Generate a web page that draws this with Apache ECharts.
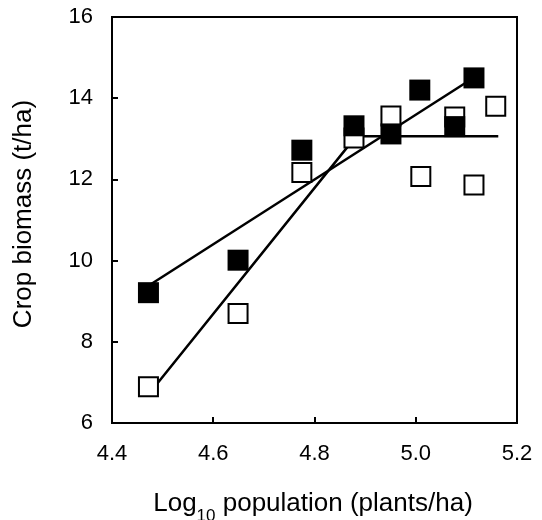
<!DOCTYPE html>
<html>
<head>
<meta charset="utf-8">
<script src="https://cdn.jsdelivr.net/npm/echarts@6/dist/echarts.min.js"></script>
<style>
html,body{margin:0;padding:0;background:#fff;}
#main{width:542px;height:520px;}
</style>
</head>
<body>
<div id="main"></div>
<script>
// 数据
var filledX = [4.472, 4.649, 4.775, 4.878, 4.951, 5.008, 5.077, 5.115];
var filledY = [9.21, 10.01, 12.72, 13.32, 13.12, 14.20, 13.30, 14.50];
var openX = [4.472, 4.649, 4.775, 4.878, 4.951, 5.010, 5.077, 5.115, 5.158];
var openY = [6.89, 8.70, 12.17, 13.02, 13.56, 12.07, 13.54, 11.86, 13.80];
// 拟合线
var filledFitX = [4.472, 5.115];
var filledFitY = [9.38, 14.51];
var openFitX = [4.472, 4.882, 5.163];
var openFitY = [6.70, 13.06, 13.06];

function pairs(xs, ys) {
	var out = [];
	for (var i = 0; i < xs.length; i++) {
		out.push([xs[i], ys[i]]);
	}
	return out;
}

var font = 'Liberation Sans';
var myChart = echarts.init(document.getElementById('main'));
var option = {
	backgroundColor: '#fff',
	animation: false,
	grid: {
		left: 112, right: 25, top: 17, bottom: 97,
		show: true,
		borderColor: '#000',
		borderWidth: 2,
		outerBoundsMode: 'none'
	},
	xAxis: {
		type: 'value',
		min: 4.4, max: 5.2, interval: 0.2,
		name: '{a|Log}{s|10}{a| population (plants/ha)}',
		nameLocation: 'middle',
		nameGap: 68,
		nameTextStyle: {
			padding: [0, 3, 0, 0],
			rich: {
				a: {fontFamily: font, fontSize: 26, color: '#000', lineHeight: 30, verticalAlign: 'top'},
				s: {fontFamily: font, fontSize: 17, color: '#000', lineHeight: 34, verticalAlign: 'bottom'}
			}
		},
		axisLine: {onZero: false, lineStyle: {color: '#000', width: 2}},
		axisTick: {inside: true, length: 6, lineStyle: {color: '#000', width: 2}},
		axisLabel: {
			margin: 20,
			fontFamily: font, fontSize: 22, color: '#000',
			formatter: function (v) { return v.toFixed(1); }
		},
		splitLine: {show: false}
	},
	yAxis: {
		type: 'value',
		min: 6, max: 16, interval: 2,
		name: 'Crop biomass (t/ha)',
		nameLocation: 'middle',
		nameRotate: 90,
		nameGap: 75,
		nameTextStyle: {fontFamily: font, fontSize: 26, color: '#000', padding: [0, 0, 0, 12]},
		axisLine: {onZero: false, lineStyle: {color: '#000', width: 2}},
		axisTick: {inside: true, length: 6, lineStyle: {color: '#000', width: 2}},
		axisLabel: {margin: 19, fontFamily: font, fontSize: 22, color: '#000'},
		splitLine: {show: false}
	},
	series: [
		{
			type: 'line',
			data: pairs(filledFitX, filledFitY),
			symbol: 'none',
			lineStyle: {color: '#000', width: 2.5},
			z: 1
		},
		{
			type: 'line',
			data: pairs(openFitX, openFitY),
			symbol: 'none',
			lineStyle: {color: '#000', width: 2.5},
			z: 1
		},
		{
			type: 'scatter',
			data: pairs(openX, openY),
			symbol: 'rect',
			symbolSize: 19,
			itemStyle: {color: '#fff', borderColor: '#000', borderWidth: 2, opacity: 1},
			z: 2
		},
		{
			type: 'scatter',
			data: pairs(filledX, filledY),
			symbol: 'rect',
			symbolSize: 21,
			itemStyle: {color: '#000', opacity: 1},
			z: 3
		}
	]
};
myChart.setOption(option);
</script>
</body>
</html>
